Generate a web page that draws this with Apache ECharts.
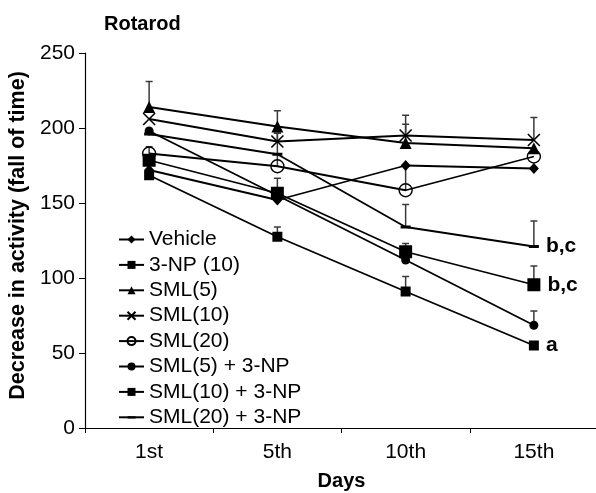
<!DOCTYPE html>
<html>
<head>
<meta charset="utf-8">
<script src="https://cdn.jsdelivr.net/npm/echarts@6/dist/echarts.min.js"></script>
<style>
html,body{margin:0;padding:0;background:#fff;}
#chart{width:596px;height:493px;}
</style>
</head>
<body>
<div id="chart"></div>
<script>
// ---- data ----
const days = ['1st', '5th', '10th', '15th'];
const yTicks = [0, 50, 100, 150, 200, 250];
const seriesNames = ['Vehicle', '3-NP (10)', 'SML(5)', 'SML(10)', 'SML(20)', 'SML(5) + 3-NP', 'SML(10) + 3-NP', 'SML(20) + 3-NP'];
const vehicle = [172, 152, 175, 173];
const np10 = [168.5, 127.5, 91, 55];
const sml5 = [214, 201, 190, 186.5];
const sml10 = [206, 191, 195, 192];
const sml20 = [183, 174.5, 158.5, 181];
const sml5np = [198, 155, 112, 68.5];
const sml10np = [178.5, 156.5, 117.5, 95.5];
const sml20np = [196, 182.5, 134, 121];
// upper error (SEM) where visible
const vehicleErr = [null, null, null, null];
const np10Err = [null, 6.5, 10, null];
const sml5Err = [17, 10.5, 12.5, null];
const sml10Err = [null, 5.5, 13.5, 15];
const sml20Err = [4.5, 8, 16, null];
const sml5npErr = [null, null, null, 9.5];
const sml10npErr = [null, 10, 5.5, 12.5];
const sml20npErr = [null, 14, 15, 17];
// significance annotations at last point
const np10Note = ['', '', '', 'a'];
const sml10npNote = ['', '', '', 'b,c'];
const sml20npNote = ['', '', '', 'b,c'];

const FONT = 'Liberation Sans, Arial, Helvetica, sans-serif';

const values = [vehicle, np10, sml5, sml10, sml20, sml5np, sml10np, sml20np];
const errs = [vehicleErr, np10Err, sml5Err, sml10Err, sml20Err, sml5npErr, sml10npErr, sml20npErr];
const notes = [null, np10Note, null, null, null, null, sml10npNote, sml20npNote];

const symbols = [
  {symbol: 'diamond', size: [10, 11], fill: '#000'},
  {symbol: 'rect', size: 10, fill: '#000'},
  {symbol: 'triangle', size: 12, fill: '#000'},
  {symbol: 'path://M0,0L10,10M10,0L0,10', size: 12, fill: '#000', border: 1.6},
  {symbol: 'circle', size: 13, fill: 'rgba(0,0,0,0)', border: 1.4},
  {symbol: 'circle', size: 9, fill: '#000'},
  {symbol: 'rect', size: 13, fill: '#000'},
  {symbol: 'path://M0,0L0,0ZM0,3.6L10,3.6L10,6.4L0,6.4ZM10,10L10,10Z', size: 10, fill: '#000'}
];

// error bar data
const errData = [];
values.forEach((vals, s) => {
  vals.forEach((v, i) => {
    if (errs[s][i] != null) errData.push([i, v, v + errs[s][i]]);
  });
});

const series = [{
  type: 'custom',
  name: 'errors',
  z: 1,
  silent: true,
  data: errData,
  encode: {x: 0, y: [1, 2]},
  renderItem: function (params, api) {
    const x = api.value(0);
    const lo = api.coord([x, api.value(1)]);
    const hi = api.coord([x, api.value(2)]);
    return {
      type: 'group',
      children: [
        {type: 'line', shape: {x1: lo[0], y1: lo[1], x2: hi[0], y2: hi[1]}, style: {stroke: '#3a3a3a', lineWidth: 1.5}},
        {type: 'line', shape: {x1: hi[0] - 3.5, y1: hi[1], x2: hi[0] + 3.5, y2: hi[1]}, style: {stroke: '#3a3a3a', lineWidth: 1.5}}
      ]
    };
  }
}];

seriesNames.forEach((name, s) => {
  const sy = symbols[s];
  const note = notes[s];
  series.push({
    type: 'line',
    name: name,
    z: 2 + s,
    data: values[s],
    symbol: sy.symbol,
    symbolSize: sy.size,
    showAllSymbol: true,
    lineStyle: {color: '#000', width: 1.8},
    itemStyle: {color: sy.fill, borderColor: '#000', borderWidth: sy.border || 0},
    emphasis: {disabled: true},
    label: note ? {
      show: true,
      position: 'right',
      distance: 7,
      formatter: (p) => note[p.dataIndex],
      fontFamily: FONT, fontSize: 21, fontWeight: 'bold', color: '#000'
    } : {show: false}
  });
});

const chart = echarts.init(document.getElementById('chart'), null, {renderer: 'canvas'});
chart.setOption({
  animation: false,
  backgroundColor: '#fff',
  title: {
    text: 'Rotarod',
    left: 99, top: 9,
    textStyle: {fontFamily: FONT, fontSize: 20, fontWeight: 'bold', color: '#000'}
  },
  legend: {
    orient: 'vertical',
    left: 113, top: 224,
    itemWidth: 25, itemHeight: 10, itemGap: 4.4,
    data: seriesNames,
    textStyle: {fontFamily: FONT, fontSize: 21, color: '#000', lineHeight: 20},
    selectedMode: false
  },
  grid: {left: 85, top: 53, width: 513, height: 375, containLabel: false, outerBoundsMode: 'none'},
  xAxis: {
    type: 'category',
    data: days,
    boundaryGap: true,
    axisLine: {lineStyle: {color: '#000', width: 1.2}},
    axisTick: {show: true, length: 5, lineStyle: {color: '#000'}},
    axisLabel: {fontFamily: FONT, fontSize: 21, color: '#000', margin: 14},
    name: 'Days',
    nameLocation: 'middle',
    nameGap: 43,
    nameTextStyle: {fontFamily: FONT, fontSize: 20, fontWeight: 'bold', color: '#000'}
  },
  yAxis: {
    type: 'value',
    min: yTicks[0], max: yTicks[yTicks.length - 1], interval: 50,
    splitLine: {show: false},
    axisLine: {show: true, lineStyle: {color: '#000', width: 1.2}},
    axisTick: {show: true, length: 6, lineStyle: {color: '#000'}},
    axisLabel: {fontFamily: FONT, fontSize: 21, color: '#000', margin: 10},
    name: 'Decrease in activity (fall of time)',
    nameLocation: 'middle',
    nameGap: 53,
    nameTextStyle: {fontFamily: FONT, fontSize: 21.5, fontWeight: 'bold', color: '#000', padding: [0, 0, 0, 10]}
  },
  series: series
});
</script>
</body>
</html>
